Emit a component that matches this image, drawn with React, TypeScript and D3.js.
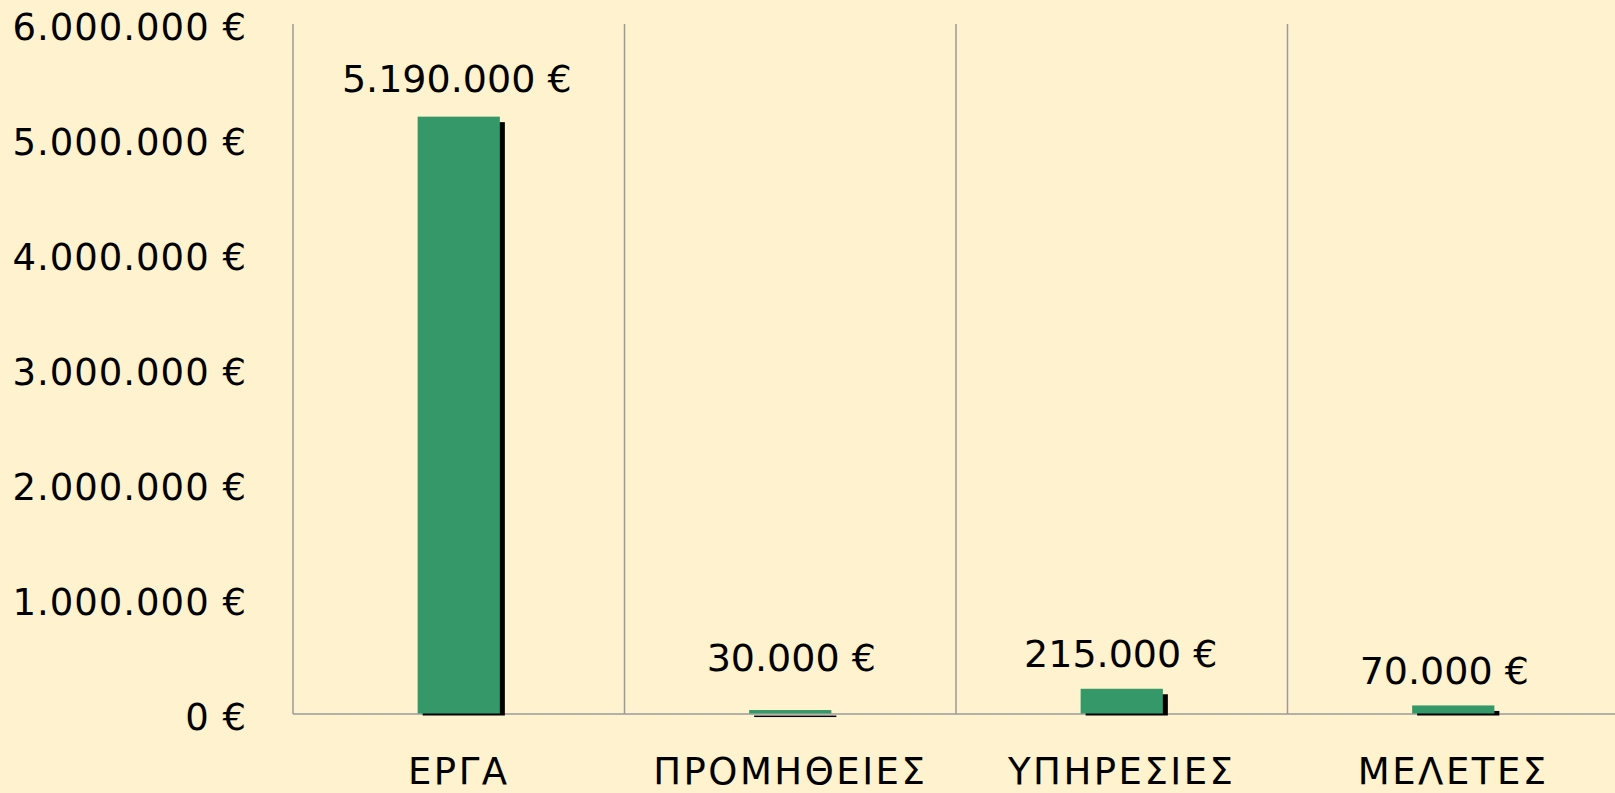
import * as React from "react";
import * as d3 from "d3";

// Chart data
const categories: string[] = ["ΕΡΓΑ", "ΠΡΟΜΗΘΕΙΕΣ", "ΥΠΗΡΕΣΙΕΣ", "ΜΕΛΕΤΕΣ"];
const amounts: number[] = [5190000, 30000, 215000, 70000];
const yTicks: number[] = [0, 1000000, 2000000, 3000000, 4000000, 5000000, 6000000];

// label nudges (px), the original has hand placed data labels
const labelLift: number[] = [25, 40, 22, 22];
const labelShift: number[] = [-2, 1, -1, -9];

const fmt = (v: number) => d3.format(",")(v).replace(/,/g, ".") + " €";

export default function App() {
    const width = 1615;
    const height = 793;

    const left = 293;
    const right = 1619;
    const top = 24;
    const bottom = 714;

    const x = d3.scaleBand<string>().domain(categories).range([left, right]).paddingInner(0).paddingOuter(0);
    const y = d3.scaleLinear().domain([0, 6000000]).range([bottom, top]);

    const barW = x.bandwidth() * 0.248;
    const font = "'DejaVu Sans', Verdana, sans-serif";
    const gridColor = "#9a9a9a";

    // band edges for the vertical separators
    const edges = categories.map(c => x(c) as number);

    return (
        <svg width={width} height={height} style={{ position: "fixed", left: 0, top: 0, display: "block" }}>
            <rect x={0} y={0} width={width} height={height} fill="#FFF2CE" />

            {edges.map((ex, i) => (
                <line key={"g" + i} x1={ex} x2={ex} y1={top} y2={bottom} stroke={gridColor} strokeWidth={1.5} />
            ))}
            <line x1={left} x2={width} y1={bottom} y2={bottom} stroke={gridColor} strokeWidth={1.5} />

            {yTicks.map(t => (
                <text key={"t" + t} x={247} y={y(t) + 16} textAnchor="end" fontFamily={font}
                    fontSize={37} letterSpacing={1} fill="#000">{fmt(t)}</text>
            ))}

            {categories.map((c, i) => {
                const cx = (x(c) as number) + x.bandwidth() / 2;
                const bx = cx - barW / 2;
                const by = y(amounts[i]);
                return (
                    <g key={c}>
                        <rect x={bx + 5} y={by + 5} width={barW} height={Math.max(1.5, bottom + 1.5 - (by + 5))} fill="#000" />
                        <rect x={bx} y={by - 0.5} width={barW} height={bottom - by} fill="#349868" />
                        <text x={cx + labelShift[i]} y={by - labelLift[i]} textAnchor="middle" fontFamily={font}
                            fontSize={38} fill="#000">{fmt(amounts[i])}</text>
                        <text x={cx} y={784} textAnchor="middle" fontFamily={font}
                            fontSize={37} letterSpacing={2.5} fill="#000">{c}</text>
                    </g>
                );
            })}
        </svg>
    );
}
